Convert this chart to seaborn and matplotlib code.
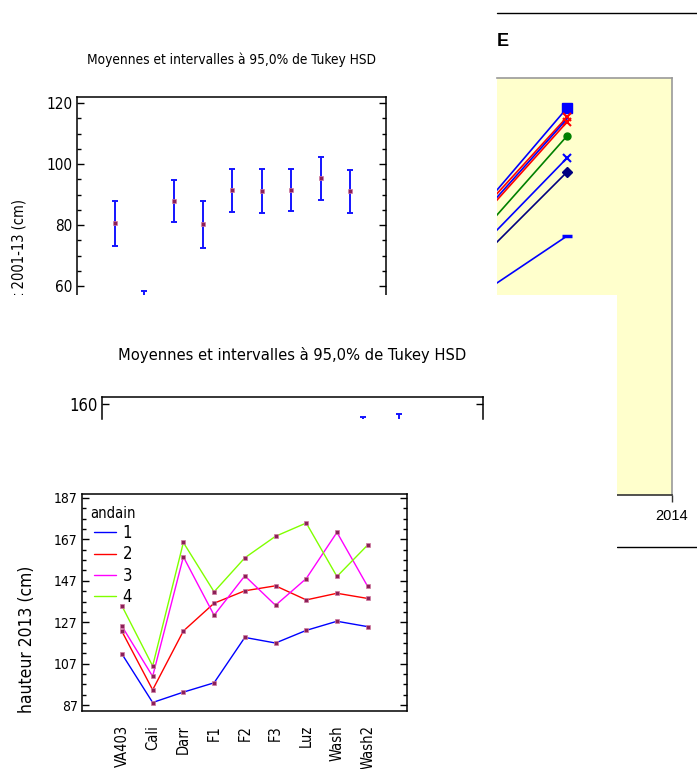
import numpy as np
import pandas as pd
import matplotlib
matplotlib.use('Agg')
import matplotlib.pyplot as plt
import seaborn as sns
from matplotlib.patches import Rectangle
from matplotlib.lines import Line2D
from matplotlib.ticker import FixedLocator

# data
varietes = ['VA403', 'Cali', 'Darr', 'F1', 'F2', 'F3', 'Luz', 'Wash', 'Wash2']

# Tukey HSD, accroissement 2001-13
moy_accr = [80.5, 51.0, 87.8, 80.2, 91.4, 91.0, 91.6, 95.3, 91.0]
demi_accr = [7.5, 7.5, 6.9, 7.7, 7.0, 7.2, 6.9, 7.1, 7.1]

# Tukey HSD, hauteur 2013 (only the top of the frame is visible)
moy_h13 = [124.0, 96.8, 135.5, 126.5, 143.0, 142.0, 146.5, 147.5, 143.8]
demi_h13 = [9.5, 9.5, 9.5, 9.5, 9.5, 9.5, 9.5, 9.5, 9.5]

# interaction plot hauteur 2013 par andain
andain_1 = [111.7, 88.3, 93.3, 97.8, 119.7, 117.0, 123.1, 127.5, 124.9]
andain_2 = [122.6, 94.4, 122.8, 136.2, 142.2, 144.6, 137.8, 141.0, 138.5]
andain_3 = [125.1, 100.9, 158.6, 130.4, 149.4, 135.2, 148.1, 170.4, 144.3]
andain_4 = [134.9, 105.9, 165.5, 141.7, 158.1, 168.5, 174.9, 149.1, 164.3]

# yellow panel (right), series from 2012 to 2013
annees = [2012, 2013]
serie_debut = [132.0, 131.5, 129.3, 128.0, 120.3, 114.5, 109.0, 94.3]
serie_fin = [193.5, 189.0, 188.0, 186.5, 179.5, 168.5, 161.5, 129.5]
serie_couleur = ['#0000ff', '#ff0000', '#0000ff', '#ff0000', '#008000', '#0000ff', '#000080', '#0000ff']
serie_marker = ['s', 'x', 'None', 'x', 'o', 'x', 'D', '_']

W, H = 697, 769
sns.set_style('white')
plt.rcParams['font.family'] = ['DejaVu Sans']
plt.rcParams['font.stretch'] = 'condensed'
for k in ['text.color', 'xtick.color', 'ytick.color', 'xtick.labelcolor', 'ytick.labelcolor']:
    plt.rcParams[k] = 'black'
fig = plt.figure(figsize=(W / 100, H / 100), dpi=100)


def box(l, t, r, b):
    return [l / W, 1 - b / H, (r - l) / W, (b - t) / H]


def style_y(ax, major, minor, size):
    ax.yaxis.set_major_locator(FixedLocator(major))
    ax.yaxis.set_minor_locator(FixedLocator(minor))
    ax.tick_params(axis='y', which='both', direction='in', left=True, right=True,
                   labelleft=True, labelsize=size, color='black', pad=3)
    ax.tick_params(axis='y', which='major', length=5, width=1)
    ax.tick_params(axis='y', which='minor', length=3, width=1)
    for s in ax.spines.values():
        s.set_color('black')
        s.set_linewidth(1.1)


mk = dict(marker='s', ms=3, mfc='#8b2058', mec='#d07aa0', mew=0.5, ls='none')
pos = np.arange(len(varietes))

# ---- Tukey chart 1 ----
ax1 = fig.add_axes(box(77, 97, 386, 295))
ax1.errorbar(pos, moy_accr, yerr=demi_accr, fmt='none', ecolor='#1414ff',
             elinewidth=1.4, capsize=2.4, capthick=1.4)
ax1.plot(pos, moy_accr, **mk)
ax1.set_xlim(-1.294, 9.226)
ax1.set_ylim(57.05, 121.97)
ax1.set_xticks([])
style_y(ax1, [60, 80, 100, 120], np.arange(60, 121, 5), 11)
ax1.spines['bottom'].set_visible(False)
fig.text(232 / W, 1 - 60 / H, 'Moyennes et intervalles à 95,0% de Tukey HSD',
         ha='center', va='center', fontsize=9.8)
fig.text(19 / W, 1 - 199 / H, 'accroissement 2001-13 (cm)', rotation=90,
         ha='center', va='top', fontsize=10.5)

# ---- yellow panel ----
ax4 = fig.add_axes(box(497, 78, 672, 495))
ax4.set_facecolor('#ffffcc')
for i in range(len(serie_debut)):
    d = pd.DataFrame({'annee': annees, 'val': [serie_debut[i], serie_fin[i]]})
    sns.lineplot(data=d, x='annee', y='val', ax=ax4, color=serie_couleur[i], lw=1.2)
    ax4.plot(annees[1], serie_fin[i], marker=serie_marker[i], color=serie_couleur[i],
             ms={'s': 7, 'x': 6, 'o': 5, 'D': 5, '_': 7, 'None': 0}[serie_marker[i]],
             mew={'x': 1.5, '_': 2.5}.get(serie_marker[i], 1), ls='none')
ax4.set_xlim(2012.333, 2014)
ax4.set_ylim(0, 208.5)
ax4.set_xlabel('')
ax4.set_ylabel('')
ax4.set_yticks([])
ax4.set_xticks([2014])
ax4.set_xticklabels(['2014'], family='Liberation Sans', stretch='normal', fontsize=10.5)
ax4.tick_params(axis='x', direction='out', length=5, width=1, color='#333333', pad=5, bottom=True)
ax4.spines['left'].set_visible(False)
ax4.spines['top'].set_color('#999999')
ax4.spines['right'].set_color('#999999')
ax4.spines['bottom'].set_color('#333333')
for s in ['top', 'right', 'bottom']:
    ax4.spines[s].set_linewidth(1.2)

fig.text(497 / W, 1 - 41 / H, 'E', ha='left', va='center', fontsize=13,
         fontweight='bold', family='Liberation Sans', stretch='normal')
fig.add_artist(Line2D([497 / W, 1], [1 - 13 / H] * 2, color='black', lw=1))
fig.add_artist(Line2D([617 / W, 1], [1 - 547 / H] * 2, color='black', lw=1))

# white cover over lower left
fig.add_artist(Rectangle((0, 0), 617 / W, (H - 295) / H, transform=fig.transFigure,
                         fc='white', ec='none', zorder=5))

# ---- Tukey chart 2 (top strip only) ----
ax2 = fig.add_axes(box(102, 397, 483, 419))
ax2.set_zorder(6)
ax2.errorbar(pos, moy_h13, yerr=demi_h13, fmt='none', ecolor='#1414ff',
             elinewidth=1.4, capsize=2.4, capthick=1.4)
ax2.set_xlim(-1.25, 9.33)
ax2.set_ylim(155.4, 162.15)
ax2.set_xticks([])
style_y(ax2, [160], [], 12)
ax2.spines['bottom'].set_visible(False)
fig.text(292 / W, 1 - 355 / H, 'Moyennes et intervalles à 95,0% de Tukey HSD',
         ha='center', va='center', fontsize=11.8, zorder=6)

# ---- interaction plot ----
ax3 = fig.add_axes(box(82, 494, 407, 711))
ax3.set_zorder(6)
df = pd.DataFrame({
    'pos': np.tile(pos, 4),
    'hauteur': andain_1 + andain_2 + andain_3 + andain_4,
    'andain': np.repeat(['1', '2', '3', '4'], len(varietes)),
})
sns.lineplot(data=df, x='pos', y='hauteur', hue='andain', ax=ax3,
             palette=['#0000ff', '#ff0000', '#ff00ff', '#80ff00'], lw=1)
ax3.plot(df['pos'], df['hauteur'], **mk)
ax3.set_xlim(-1.3, 9.28)
ax3.set_ylim(84.2, 188.9)
style_y(ax3, np.arange(87, 188, 20), np.arange(87, 188, 5), 10)
ax3.set_xticks(pos)
ax3.set_xticklabels(varietes, rotation=90, fontsize=10.5)
ax3.tick_params(axis='x', length=0, pad=10)
ax3.set_xlabel('')
ax3.set_ylabel('')
ax3.legend(title='andain', frameon=False, loc='upper left', bbox_to_anchor=(-0.01, 1.0),
           fontsize=12, title_fontsize=10.5, handlelength=1.3, handletextpad=0.4,
           labelspacing=0.2, borderaxespad=0.3)
fig.text(27 / W, 1 - 639 / H, 'hauteur 2013 (cm)', rotation=90, ha='center',
         va='center', fontsize=12.5, zorder=6)

fig.savefig('out.png', dpi=100)
